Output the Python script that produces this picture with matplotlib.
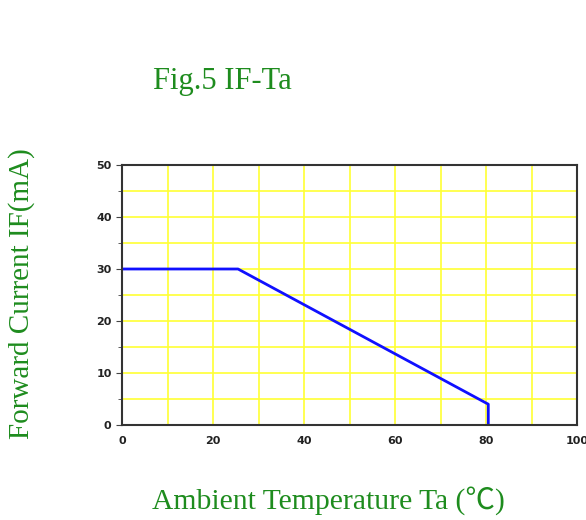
import matplotlib
matplotlib.use("Agg")
import matplotlib.pyplot as plt
from matplotlib.ticker import MultipleLocator

ta = [0, 25.5, 80.5, 80.5]
if_ma = [30, 30, 4, 0]
xticks = [0, 20, 40, 60, 80, 100]
yticks = [0, 10, 20, 30, 40, 50]

fig = plt.figure(figsize=(5.86, 5.2), dpi=100)
ax = fig.add_axes([122/586, 95/520, 455/586, 260/520])
ax.set_xlim(0, 100)
ax.set_ylim(0, 50)
ax.xaxis.set_major_locator(MultipleLocator(20))
ax.xaxis.set_minor_locator(MultipleLocator(10))
ax.yaxis.set_major_locator(MultipleLocator(10))
ax.yaxis.set_minor_locator(MultipleLocator(5))
ax.grid(True, which='both', color='#ffff33', linewidth=1.2)
ax.set_axisbelow(True)
ax.plot(ta, if_ma, color='#1010ff', linewidth=2)
ax.set_xticks(xticks)
ax.set_yticks(yticks)
ax.set_xticklabels([str(v) for v in xticks], fontweight='bold', fontsize=8, color='#222222')
ax.set_yticklabels([str(v) for v in yticks], fontweight='bold', fontsize=8, color='#222222')
ax.tick_params(axis='x', which='both', length=0, pad=8)
ax.tick_params(axis='y', which='major', length=4, color='#444444')
ax.tick_params(axis='y', which='minor', length=3, color='#444444')
for s in ax.spines.values():
    s.set_color('#333333')
    s.set_linewidth(1.5)

green = '#1e8c1e'
fig.text(222/586, 1 - 81/520, 'Fig.5 IF-Ta', fontsize=22, color=green,
         family='Liberation Serif', ha='center', va='center')
fig.text(22/586, 1 - 294/520, 'Forward Current IF(mA)', fontsize=21, color=green,
         family='Liberation Serif', ha='center', va='center', rotation=90)
fig.text(328/586, 1 - 501/520, 'Ambient Temperature Ta (\u2103)', fontsize=21.3, color=green,
         family=['Liberation Serif', 'Noto Sans CJK SC', 'DejaVu Sans'], ha='center', va='center')
fig.savefig('out.png', dpi=100)
